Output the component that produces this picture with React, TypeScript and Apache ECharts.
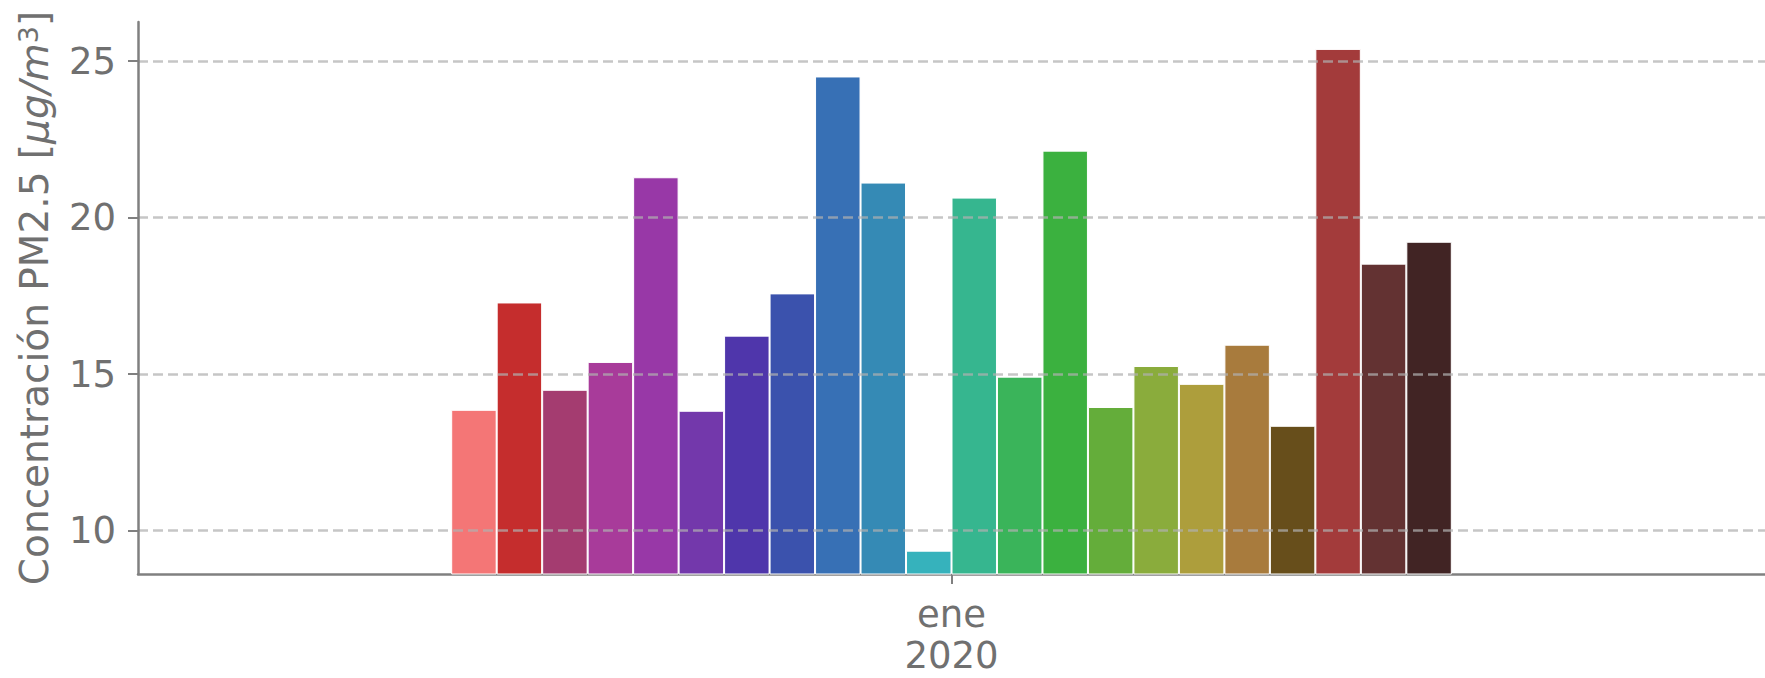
import React, { useEffect, useRef } from "react";
import * as echarts from "echarts";

const categories = ["ene\n2020"];
const stations = [
  "E01", "E02", "E03", "E04", "E05", "E06", "E07", "E08", "E09", "E10", "E11",
  "E12", "E13", "E14", "E15", "E16", "E17", "E18", "E19", "E20", "E21", "E22",
];
const values = [
  13.86, 17.29, 14.5, 15.39, 21.29, 13.83, 16.23, 17.58, 24.51, 21.12, 9.36,
  20.64, 14.92, 22.14, 13.95, 15.26, 14.69, 15.94, 13.35, 25.39, 18.53, 19.23,
];
const colors = [
  "#f47676", "#c52d2d", "#a43c70", "#a83b9a", "#9838a7", "#7338ab", "#4f36ab",
  "#3b52ad", "#3770b5", "#358ab5", "#36b2bc", "#36b68f", "#3ab45a", "#3bb13f",
  "#64ad3a", "#8aac3c", "#ad9e3c", "#a87b3d", "#674e1b", "#a33b3b", "#633232",
  "#412424",
];
const yTicks = [10, 15, 20, 25];

const TEXT = "#707070";
const AXIS = "#808080";
const FONT = "DejaVu Sans";

export default function App() {
  const ref = useRef<HTMLDivElement>(null);
  useEffect(() => {
    if (!ref.current) return;
    const chart = echarts.init(ref.current, null, { renderer: "svg" });
    chart.setOption({
      animation: false,
      textStyle: { fontFamily: FONT },
      grid: { left: 138, right: 0, top: 22, bottom: 104, containLabel: false },
      xAxis: [
        {
          type: "category",
          data: categories,
          show: false,
        },
        {
          type: "value",
          min: 0,
          max: 1,
          position: "bottom",
          axisLine: { show: true, lineStyle: { color: AXIS, width: 2.5 } },
          axisTick: {
            show: true,
            length: 10,
            customValues: [0.5],
            lineStyle: { color: AXIS, width: 2 },
          },
          axisLabel: {
            customValues: [0.5],
            formatter: () => categories[0],
            color: TEXT,
            fontSize: 37,
            lineHeight: 41,
            margin: 20,
            fontFamily: FONT,
          },
          splitLine: { show: false },
        },
      ],
      yAxis: {
        type: "value",
        min: 8.615,
        max: 26.25,
        minInterval: 5,
        maxInterval: 5,
        z: 3,
        axisLine: { show: true, lineStyle: { color: AXIS, width: 2.5 } },
        axisTick: {
          show: true,
          length: 10,
          customValues: yTicks,
          lineStyle: { color: AXIS, width: 2 },
        },
        axisLabel: {
          customValues: yTicks,
          color: TEXT,
          fontSize: 37,
          margin: 22,
          fontFamily: FONT,
        },
        splitLine: {
          show: true,
          lineStyle: { color: "#b0b0b0", opacity: 0.72, width: 2.6, type: [10, 5] },
        },
        name: "{n|Concentración PM2.5 [}{i|μg/m}{s|3}{n|]}",
        nameLocation: "middle",
        nameGap: 84,
        nameRotate: 90,
        nameTextStyle: {
          color: TEXT,
          fontFamily: FONT,
          rich: {
            n: { fontSize: 39, color: TEXT, fontFamily: FONT },
            i: { fontSize: 39, color: TEXT, fontFamily: FONT, fontStyle: "italic" },
            s: { fontSize: 27, color: TEXT, fontFamily: FONT, verticalAlign: "top" },
          },
        },
      },
      series: values.map((v, i) => ({
        type: "bar",
        name: stations[i],
        data: [v],
        xAxisIndex: 0,
        barGap: "0%",
        barCategoryGap: "38.5%",
        itemStyle: { color: colors[i], borderColor: "#ffffff", borderWidth: 1 },
      })),
    });
    return () => chart.dispose();
  }, []);
  return (
    <div
      ref={ref}
      style={{ position: "fixed", left: 0, top: 0, width: 1765, height: 678, background: "#fff" }}
    />
  );
}
